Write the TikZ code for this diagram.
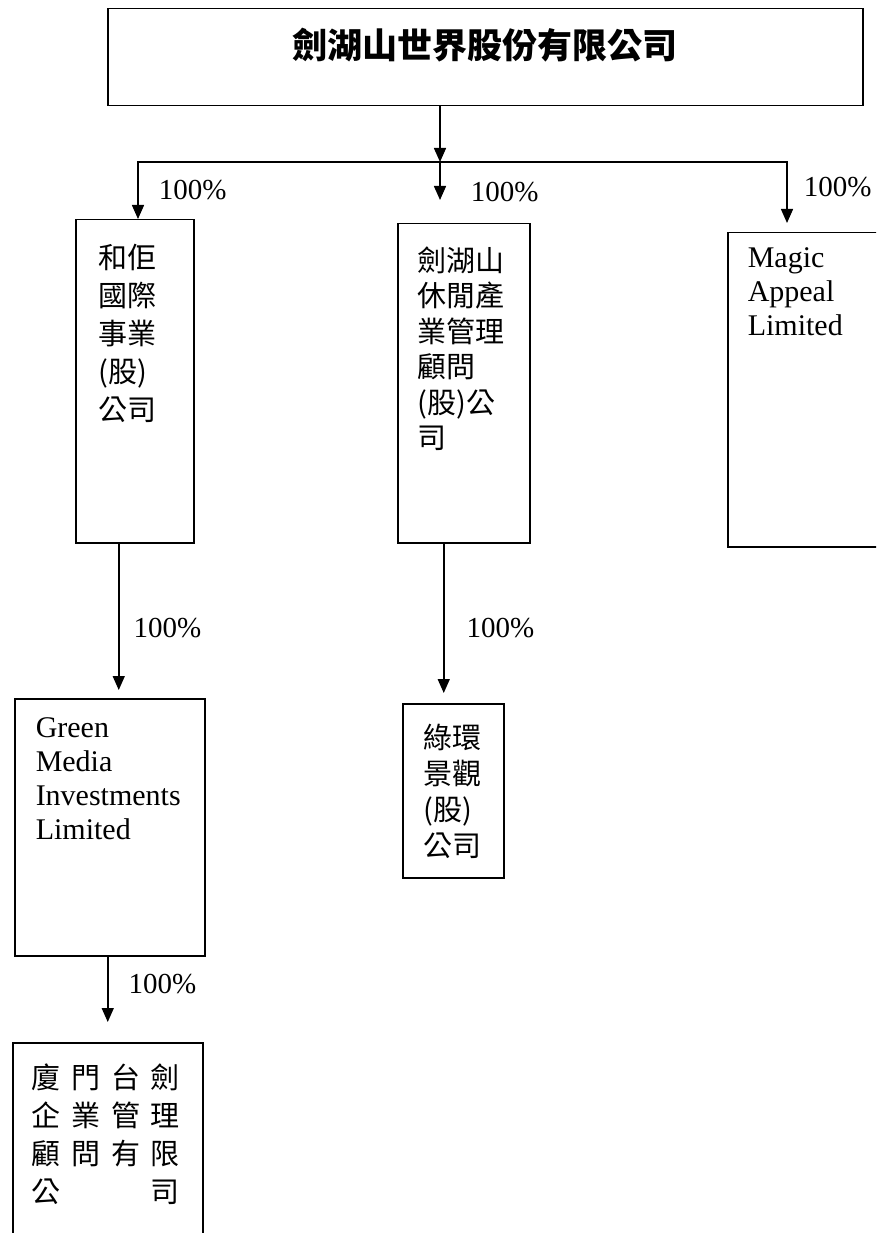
\documentclass[tikz,border=0pt]{standalone}
\usepackage{fontspec}
\setmainfont{Liberation Serif}
\newfontfamily\cjk{Noto Sans CJK TC}
\usetikzlibrary{arrows.meta,positioning}

% box body: width, height, left pad, top pad, text
\newcommand{\boxbody}[5]{\parbox[t][#2][t]{#1}{\raggedright\leftskip=#3\relax\vspace*{#4}#5}}

\begin{document}
\begin{tikzpicture}[x=1pt,y=-1pt]
    % Define styles
    \tikzset{
        entity/.style={draw, line width=1.5pt, anchor=north west, inner sep=0pt},
        link/.style={-{Triangle[width=12pt,length=14pt]}, line width=1.5pt},
        pct/.style={anchor=west, inner sep=0pt, font=\fontsize{29}{29}\selectfont}
    }
    \useasboundingbox (0,0) rectangle (876,1233);
    \clip (0,0) rectangle (876,1233);

    % Companies
    \node[entity] (world) at (107,8) {\parbox[t][97pt][t]{755pt}{\centering\vspace*{19pt}\cjk\bfseries\fontsize{35}{35}\selectfont 劍湖山世界股份有限公司}};
    \node[entity] (heju) at (75,219) {\boxbody{118pt}{323pt}{23pt}{24pt}{\cjk\fontsize{29}{38}\selectfont 和佢\\國際\\事業\\(股)\\公司}};
    \node[entity] (jianhu) at (397,223) {\boxbody{132pt}{319pt}{20pt}{23pt}{\cjk\fontsize{29}{35.5}\selectfont 劍湖山\\休閒產\\業管理\\顧問\\(股)公\\司}};
    \node[entity] (magic) at (727,232) {\boxbody{173pt}{314pt}{20pt}{15pt}{\fontsize{30}{34}\selectfont Magic\\Appeal\\Limited}};
    \node[entity] (green) at (14,698) {\boxbody{190pt}{257pt}{21pt}{19pt}{\fontsize{30}{34}\selectfont Green\\Media\\Investments\\Limited}};
    \node[entity] (luhuan) at (402,703) {\boxbody{101pt}{174pt}{21pt}{20pt}{\cjk\fontsize{29}{36}\selectfont 綠環\\景觀\\(股)\\公司}};
    \node[entity] (xiamen) at (12,1042) {\boxbody{190pt}{260pt}{19pt}{21pt}{\cjk\fontsize{29}{38}\selectfont
        \makebox[148pt]{廈\hfill 門\hfill 台\hfill 劍}\\
        \makebox[148pt]{企\hfill 業\hfill 管\hfill 理}\\
        \makebox[148pt]{顧\hfill 問\hfill 有\hfill 限}\\
        \makebox[148pt]{公\hfill 司}}};

    % Fork points
    \coordinate (split) at (440,162);
    \coordinate (forkl) at (138,162);
    \coordinate (forkr) at (787,162);
    \coordinate (hejudrop) at ([xshift=-16pt]heju.south);
    \coordinate (jianhudrop) at ([xshift=-20pt]jianhu.south);

    % Arrows
    \draw[link] (world.south -| split) -- (split);
    \draw[link] (split) -| (forkl |- heju.north) node[pct, pos=0.75, xshift=20pt] {100\%};
    \draw[link, shorten >=9pt] (split) -| (forkr |- magic.north) node[pct, pos=0.68, xshift=16pt] {100\%};
    \draw[link, shorten >=23pt] (split) -- (split |- jianhu.north) node[pct, midway, xshift=30pt] {100\%};
    \draw[link, shorten >=8pt] (hejudrop) -- (hejudrop |- green.north) node[pct, pos=0.55, xshift=14pt] {100\%};
    \draw[link, shorten >=10pt] (jianhudrop) -- (jianhudrop |- luhuan.north) node[pct, pos=0.53, xshift=22pt] {100\%};
    \draw[link, shorten >=20pt] (xiamen.north |- green.south) -- (xiamen.north) node[pct, pos=0.32, xshift=20pt] {100\%};
\end{tikzpicture}
\end{document}
